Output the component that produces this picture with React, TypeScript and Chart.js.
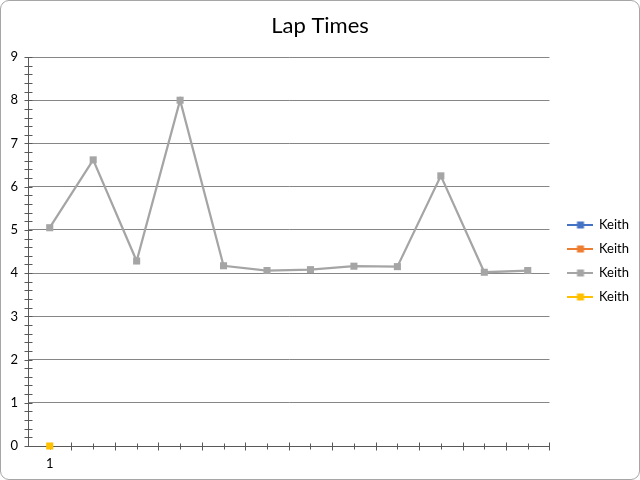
import React, { useEffect, useRef } from "react";
import { Chart, registerables } from "chart.js";

Chart.register(...registerables);

const categories = ["1", "", "", "", "", "", "", "", "", "", "", ""];
const seriesNames = ["Keith", "Keith", "Keith", "Keith"];
const seriesColors = ["#4472C4", "#ED7D31", "#A5A5A5", "#FFC000"];
const series1: number[] = [];
const series2: number[] = [];
const series3 = [5.05, 6.62, 4.28, 8.0, 4.17, 4.06, 4.08, 4.16, 4.15, 6.25, 4.02, 4.06];
const series4 = [0];
const yTicks = [0, 1, 2, 3, 4, 5, 6, 7, 8, 9];

const FONT = "Lato, 'Open Sans', sans-serif";

function legendIcon(color: string) {
  const c = document.createElement("canvas");
  c.width = 26;
  c.height = 8;
  const ctx = c.getContext("2d")!;
  ctx.strokeStyle = color;
  ctx.lineWidth = 2;
  ctx.beginPath();
  ctx.moveTo(0, 4);
  ctx.lineTo(26, 4);
  ctx.stroke();
  ctx.fillStyle = color;
  ctx.fillRect(9.5, 0.5, 7, 7);
  return c;
}

const tickPlugin = {
  id: "axisTicks",
  beforeDatasetsDraw(chart: any) {
    const ctx = chart.ctx;
    const y = chart.scales.y;
    const x = chart.scales.x;
    ctx.save();
    ctx.strokeStyle = "#595959";
    ctx.lineWidth = 1;
    const left = Math.round(x.left) + 0.5;
    for (let i = 0; i <= yTicks[yTicks.length - 1] * 5; i++) {
      const py = Math.round(y.getPixelForValue(i / 5)) + 0.5;
      ctx.beginPath();
      ctx.moveTo(left - 4, py);
      ctx.lineTo(left + 4, py);
      ctx.stroke();
    }
    const bottom = Math.round(y.getPixelForValue(0)) + 0.5;
    const n = categories.length;
    const half = (x.getPixelForValue(1) - x.getPixelForValue(0)) / 2;
    for (let i = 0; i < n; i++) {
      const c = x.getPixelForValue(i);
      const bx = Math.round(c + half) + 0.5;
      ctx.beginPath();
      ctx.moveTo(bx, bottom - 4);
      ctx.lineTo(bx, bottom + 4);
      ctx.stroke();
      const cx = Math.round(c) + 0.5;
      ctx.beginPath();
      ctx.moveTo(cx, bottom - 3);
      ctx.lineTo(cx, bottom + 3);
      ctx.stroke();
    }
    ctx.restore();
  },
};

export default function App() {
  const ref = useRef<HTMLCanvasElement>(null);
  useEffect(() => {
    document.body.style.margin = "0";
    const icons = seriesColors.map(legendIcon);
    const data = [series1, series2, series3, series4];
    const chart = new Chart(ref.current!, {
      type: "line",
      data: {
        labels: categories,
        datasets: data.map((d, i) => ({
          label: seriesNames[i],
          data: d,
          borderColor: seriesColors[i],
          backgroundColor: seriesColors[i],
          borderWidth: 2.25,
          pointStyle: "rect",
          pointRadius: 5,
          pointBorderWidth: 0,
          pointBackgroundColor: seriesColors[i],
          tension: 0,
          clip: false,
        })),
      },
      options: {
        animation: false,
        responsive: false,
        maintainAspectRatio: false,
        layout: { padding: { left: 0, right: 0, top: 0, bottom: 0 } },
        plugins: {
          title: {
            display: true,
            text: "Lap Times",
            color: "#000000",
            font: { family: FONT, size: 22, weight: "normal" },
            padding: { top: 12, bottom: 17.6 },
          },
          legend: {
            position: "right",
            title: {
              display: true,
              text: "",
              font: { size: 10 },
              padding: { top: 15, bottom: 15 },
            },
            labels: {
              usePointStyle: true,
              pointStyleWidth: 24,
              color: "#000000",
              font: { family: FONT, size: 13 },
              padding: 11,
              generateLabels: (chart: any) =>
                chart.data.datasets.map((ds: any, i: number) => ({
                  text: ds.label,
                  pointStyle: icons[i],
                  fillStyle: seriesColors[i],
                  strokeStyle: seriesColors[i],
                  lineWidth: 0,
                  hidden: false,
                  datasetIndex: i,
                  fontColor: "#000000",
                })),
            },
          },
          tooltip: { enabled: false },
        },
        scales: {
          x: {
            type: "category",
            offset: true,
            grid: { display: false, drawTicks: false },
            border: { display: true, color: "#595959", width: 1 },
            ticks: {
              color: "#000000",
              font: { family: FONT, size: 13 },
              padding: 10,
              autoSkip: false,
              maxRotation: 0,
            },
            afterFit: (s: any) => {
              s.height = 33;
            },
          },
          y: {
            min: 0,
            max: 9,
            ticks: {
              stepSize: 1,
              color: "#000000",
              font: { family: FONT, size: 13 },
              padding: 10,
            },
            grid: { color: "#868686", drawTicks: false, lineWidth: 1 },
            border: { display: true, color: "#595959", width: 1 },
            afterFit: (s: any) => {
              s.width = 27;
            },
          },
          gap: {
            type: "linear",
            position: "right",
            display: true,
            grid: { display: false, drawTicks: false },
            border: { display: false },
            ticks: { display: false },
            afterFit: (s: any) => {
              s.width = 8;
            },
          },
        },
      },
      plugins: [tickPlugin],
    });
    return () => chart.destroy();
  }, []);
  return (
    <div
      style={{
        position: "relative",
        width: 640,
        height: 480,
        boxSizing: "border-box",
        border: "1px solid #A6A6A6",
        borderRadius: 9,
        overflow: "hidden",
        background: "#fff",
      }}
    >
      <canvas
        ref={ref}
        width={638}
        height={478}
        style={{ position: "absolute", left: 0, top: 0, width: 638, height: 478 }}
      />
    </div>
  );
}
